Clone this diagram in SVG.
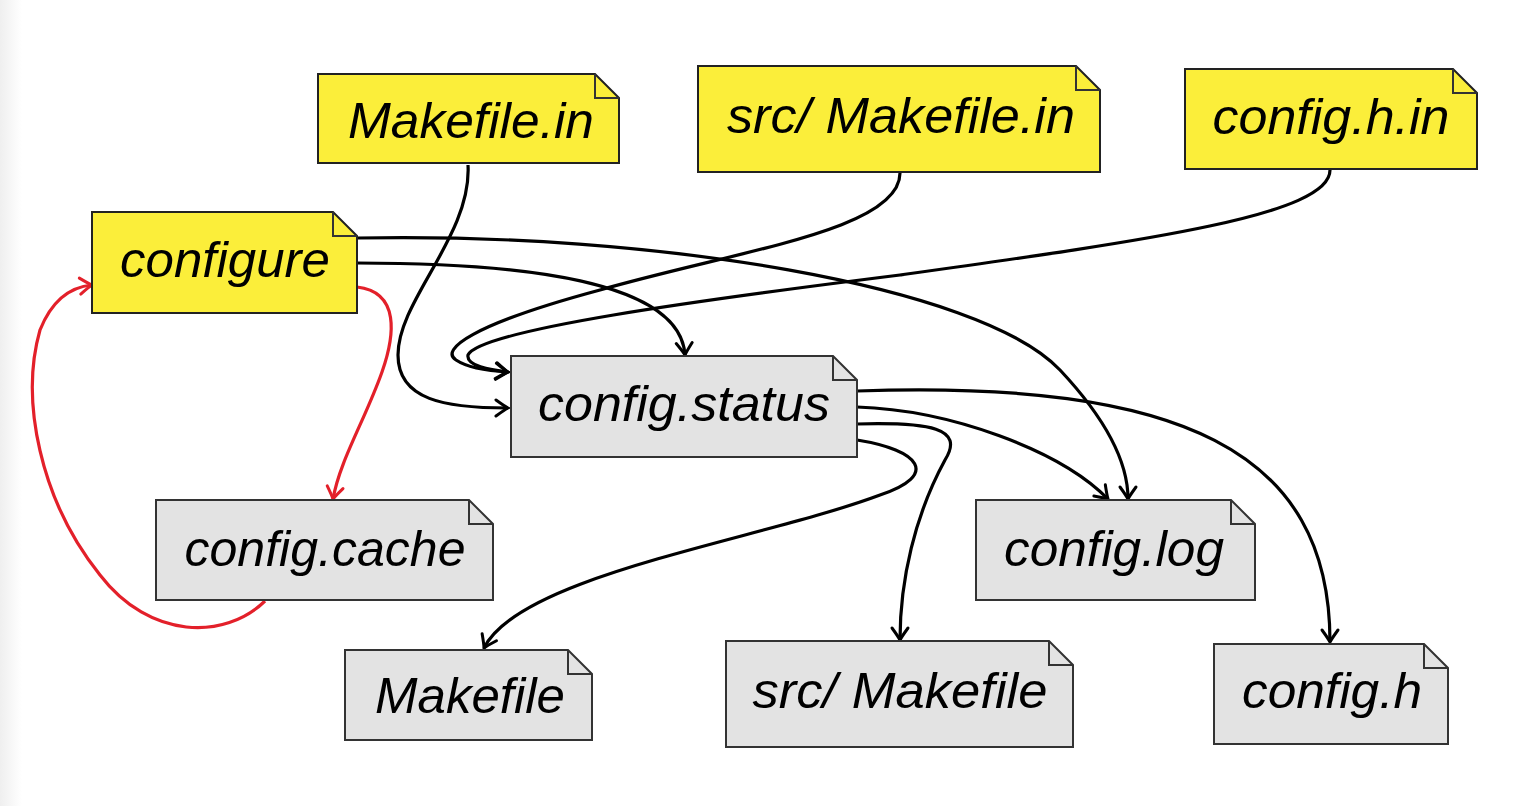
<svg xmlns="http://www.w3.org/2000/svg" width="1530" height="806" viewBox="0 0 1530 806">
<defs>
<linearGradient id="lg" x1="0" y1="0" x2="1" y2="0">
<stop offset="0" stop-color="#efefef"/><stop offset="1" stop-color="#ffffff"/>
</linearGradient>
<marker id="ah" markerUnits="userSpaceOnUse" markerWidth="32" markerHeight="32" viewBox="-16 -16 32 32" refX="0" refY="0" orient="auto">
<path d="M -12,-8 Q -3,-1.5 0,0 Q -3,1.5 -12,8" fill="none" stroke="#000" stroke-width="3" stroke-linecap="round"/>
</marker>
<marker id="ahr" markerUnits="userSpaceOnUse" markerWidth="32" markerHeight="32" viewBox="-16 -16 32 32" refX="0" refY="0" orient="auto">
<path d="M -12,-8 Q -3,-1.5 0,0 Q -3,1.5 -12,8" fill="none" stroke="#e3202a" stroke-width="3" stroke-linecap="round"/>
</marker>
</defs>
<style>
.y{fill:#fbee3a;stroke:#222;stroke-width:2}
.g{fill:#e3e3e3;stroke:#333;stroke-width:2}
.f{fill:none;stroke:#333;stroke-width:2}
.t{font-family:"Liberation Sans",Arial,sans-serif;font-style:italic;font-size:50px;fill:#000;text-anchor:middle}
.c{fill:none;stroke:#000;stroke-width:3.2;marker-end:url(#ah)}
.r{fill:none;stroke:#e3202a;stroke-width:3.2;marker-end:url(#ahr)}
</style>
<rect x="0" y="0" width="1530" height="806" fill="#fff"/>
<rect x="0" y="0" width="22" height="806" fill="url(#lg)"/>

<g id="connectors">
<path class="c" d="M468,165 C472,235 398,300 398,355 C398,400 445,408 508,408"/>
<path class="c" d="M900,173 C900,230 740,250 600,290 C470,325 440,350 456,360 C468,368 490,371 508,372"/>
<path class="c" d="M1330,170 C1330,215 1150,240 900,275 C700,300 480,330 468,355 C466,366 490,370 508,372"/>
<path class="c" d="M357,263 C520,263 680,280 685,355"/>
<path class="c" d="M357,238 C650,232 980,285 1060,370 C1105,418 1128,460 1128,499"/>
<path class="c" d="M857,407 C950,410 1060,450 1108,499"/>
<path class="c" d="M857,391 C1180,380 1330,450 1330,642"/>
<path class="c" d="M857,424 C930,422 965,428 945,460 C915,515 900,580 900,640"/>
<path class="c" d="M857,440 C920,450 940,475 880,495 C760,540 520,575 484,648"/>
<path class="r" d="M357,287 C400,292 395,335 382,372 C365,420 340,460 333,499"/>
<path class="r" d="M265,601 C225,640 150,640 100,575 C40,500 20,400 40,330 C52,300 70,287 92,285"/>
</g>

<g id="n-makefile-in">
<path class="y" d="M318,74 H595 L619,98 V163 H318 Z"/>
<path class="f" d="M595,74 V98 H619"/>
<text class="t" x="471" y="138" textLength="246" lengthAdjust="spacingAndGlyphs">Makefile.in</text>
</g>
<g id="n-src-makefile-in">
<path class="y" d="M698,66 H1076 L1100,90 V172 H698 Z"/>
<path class="f" d="M1076,66 V90 H1100"/>
<text class="t" x="901" y="133" textLength="348" lengthAdjust="spacingAndGlyphs">src/ Makefile.in</text>
</g>
<g id="n-config-h-in">
<path class="y" d="M1185,69 H1453 L1477,93 V169 H1185 Z"/>
<path class="f" d="M1453,69 V93 H1477"/>
<text class="t" x="1331" y="134" textLength="237" lengthAdjust="spacingAndGlyphs">config.h.in</text>
</g>
<g id="n-configure">
<path class="y" d="M92,212 H333 L357,236 V313 H92 Z"/>
<path class="f" d="M333,212 V236 H357"/>
<text class="t" x="225" y="277" textLength="210" lengthAdjust="spacingAndGlyphs">configure</text>
</g>
<g id="n-config-status">
<path class="g" d="M511,356 H833 L857,380 V457 H511 Z"/>
<path class="f" d="M833,356 V380 H857"/>
<text class="t" x="684" y="421" textLength="292" lengthAdjust="spacingAndGlyphs">config.status</text>
</g>
<g id="n-config-cache">
<path class="g" d="M156,500 H469 L493,524 V600 H156 Z"/>
<path class="f" d="M469,500 V524 H493"/>
<text class="t" x="325" y="566" textLength="281" lengthAdjust="spacingAndGlyphs">config.cache</text>
</g>
<g id="n-config-log">
<path class="g" d="M976,500 H1231 L1255,524 V600 H976 Z"/>
<path class="f" d="M1231,500 V524 H1255"/>
<text class="t" x="1114" y="566" textLength="220" lengthAdjust="spacingAndGlyphs">config.log</text>
</g>
<g id="n-makefile">
<path class="g" d="M345,650 H568 L592,674 V740 H345 Z"/>
<path class="f" d="M568,650 V674 H592"/>
<text class="t" x="470" y="713" textLength="190" lengthAdjust="spacingAndGlyphs">Makefile</text>
</g>
<g id="n-src-makefile">
<path class="g" d="M726,641 H1049 L1073,665 V747 H726 Z"/>
<path class="f" d="M1049,641 V665 H1073"/>
<text class="t" x="900" y="708" textLength="295" lengthAdjust="spacingAndGlyphs">src/ Makefile</text>
</g>
<g id="n-config-h">
<path class="g" d="M1214,644 H1424 L1448,668 V744 H1214 Z"/>
<path class="f" d="M1424,644 V668 H1448"/>
<text class="t" x="1332" y="708" textLength="180" lengthAdjust="spacingAndGlyphs">config.h</text>
</g>
</svg>
